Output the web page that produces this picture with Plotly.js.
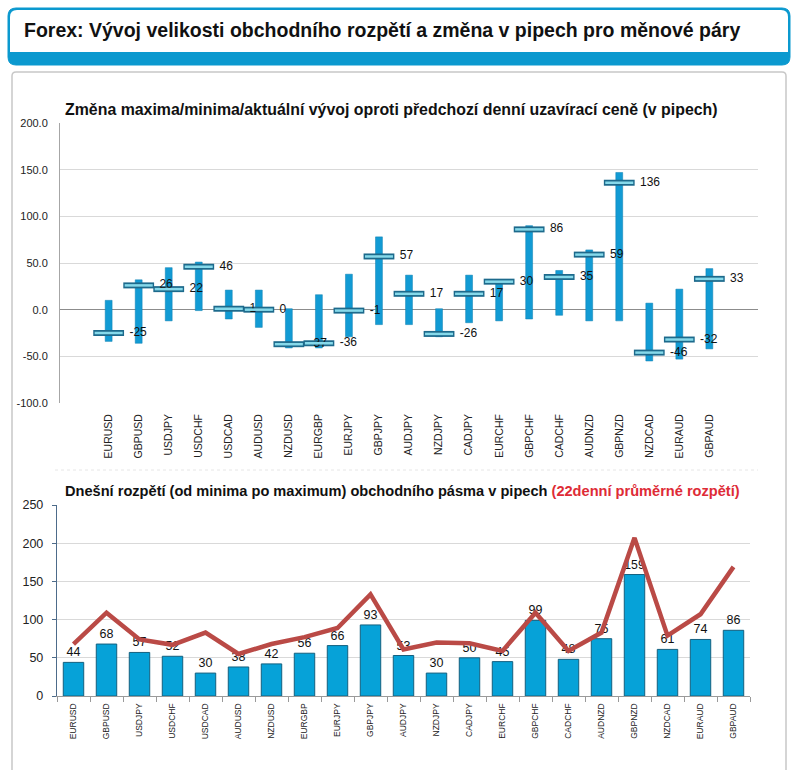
<!DOCTYPE html>
<html>
<head>
<meta charset="utf-8">
<script src="https://cdn.plot.ly/plotly-3.0.1.min.js"></script>
<style>html,body{margin:0;padding:0;background:#fff;}#chart{width:801px;height:770px;}</style>
</head>
<body>
<div id="chart"></div>
<script>
// ---- data ----
var pairs = ["EURUSD","GBPUSD","USDJPY","USDCHF","USDCAD","AUDUSD","NZDUSD","EURGBP","EURJPY","GBPJPY","AUDJPY","NZDJPY","CADJPY","EURCHF","GBPCHF","CADCHF","AUDNZD","GBPNZD","NZDCAD","EURAUD","GBPAUD"];
var highs   = [10, 32, 45, 51, 21, 21, 1, 16, 38, 78, 37, 1, 37, 32, 90, 42, 64, 147, 7, 22, 44];
var lows    = [-34, -36, -12, -1, -10, -19, -41, -41, -29, -16, -16, -29, -14, -12, -10, -6, -12, -12, -55, -53, -42];
var current = [-25, 26, 22, 46, 1, 0, -37, -36, -1, 57, 17, -26, 17, 30, 86, 35, 59, 136, -46, -32, 33];
var todayRange = [44, 68, 57, 52, 30, 38, 42, 56, 66, 93, 53, 30, 50, 45, 99, 48, 75, 159, 61, 74, 86];
var avgRange22 = [68, 109, 74, 67, 83, 55, 68, 77, 89, 133, 61, 70, 69, 59, 109, 59, 83, 207, 79, 107, 169];
var topTicks = [-100, -50, 0, 50, 100, 150, 200];
var topTickLabels = ["-100.0", "-50.0", "0.0", "50.0", "100.0", "150.0", "200.0"];
var botTicks = [0, 50, 100, 150, 200, 250];

var W = 801, H = 770;
function px(x){ return x / W; }
function py(y){ return 1 - y / H; }

var spans = highs.map(function(h, i){ return h - lows[i]; });

var traces = [
  { type: 'bar', x: pairs, y: spans, base: lows, width: 0.23,
    marker: { color: '#129BD4', line: { color: '#0c7fb0', width: 0.5 } },
    xaxis: 'x', yaxis: 'y', hoverinfo: 'skip' },
  { type: 'scatter', mode: 'markers+text', x: pairs, y: current,
    marker: { symbol: 'line-ew', size: 22, line: { color: '#1d6a8c', width: 6 } },
    text: current.map(function(v){ return '\u2002' + v; }), textposition: 'middle right',
    textfont: { family: 'Liberation Sans, Arial, sans-serif', size: 12, color: '#111' },
    cliponaxis: false, xaxis: 'x', yaxis: 'y', hoverinfo: 'skip' },
  { type: 'scatter', mode: 'markers', x: pairs, y: current,
    marker: { symbol: 'line-ew', size: 20, line: { color: '#86d9ea', width: 2.5 } },
    cliponaxis: false, xaxis: 'x', yaxis: 'y', hoverinfo: 'skip' },
  { type: 'bar', x: pairs, y: todayRange, width: 0.62,
    marker: { color: '#06A2D8', line: { color: '#14607f', width: 1 } },
    text: todayRange.map(String), textposition: 'outside',
    textfont: { family: 'Liberation Sans, Arial, sans-serif', size: 12.5, color: '#111' },
    cliponaxis: false, xaxis: 'x2', yaxis: 'y2', hoverinfo: 'skip' },
  { type: 'scatter', mode: 'lines', x: pairs, y: avgRange22,
    line: { color: '#BA4A46', width: 4.5 },
    xaxis: 'x2', yaxis: 'y2', hoverinfo: 'skip' }
];

var tickFont = { family: 'Liberation Sans, Arial, sans-serif', size: 11, color: '#222' };

var shapes = [
  // title box
  { type: 'path', xref: 'paper', yref: 'paper',
    path: 'M' + px(16) + ',' + py(8) + ' L' + px(782) + ',' + py(8) +
          ' Q' + px(790) + ',' + py(8) + ' ' + px(790) + ',' + py(16) +
          ' L' + px(790) + ',' + py(57) +
          ' Q' + px(790) + ',' + py(65) + ' ' + px(782) + ',' + py(65) +
          ' L' + px(16) + ',' + py(65) +
          ' Q' + px(8) + ',' + py(65) + ' ' + px(8) + ',' + py(57) +
          ' L' + px(8) + ',' + py(16) +
          ' Q' + px(8) + ',' + py(8) + ' ' + px(16) + ',' + py(8) + ' Z',
    fillcolor: '#0B99CF', line: { color: '#0B99CF', width: 1 }, layer: 'below' },
  { type: 'path', xref: 'paper', yref: 'paper',
    path: 'M' + px(17) + ',' + py(10) + ' L' + px(781) + ',' + py(10) +
          ' Q' + px(788) + ',' + py(10) + ' ' + px(788) + ',' + py(17) +
          ' L' + px(788) + ',' + py(52) + ' L' + px(10) + ',' + py(52) +
          ' L' + px(10) + ',' + py(17) +
          ' Q' + px(10) + ',' + py(10) + ' ' + px(17) + ',' + py(10) + ' Z',
    fillcolor: '#ffffff', line: { width: 0 }, layer: 'below' },
  // panel border
  { type: 'path', xref: 'paper', yref: 'paper',
    path: 'M' + px(12) + ',' + py(772) + ' L' + px(12) + ',' + py(76) +
          ' Q' + px(12) + ',' + py(72) + ' ' + px(16) + ',' + py(72) +
          ' L' + px(782) + ',' + py(72) +
          ' Q' + px(786) + ',' + py(72) + ' ' + px(786) + ',' + py(76) +
          ' L' + px(786) + ',' + py(772),
    line: { color: '#c8c8c8', width: 1.5 }, layer: 'below' },
  // faint separator between charts
  { type: 'line', xref: 'paper', yref: 'paper', x0: px(55), x1: px(758), y0: py(470), y1: py(470),
    line: { color: '#e6e6e6', width: 1, dash: 'dot' }, layer: 'below' }
];

var annotations = [
  { text: 'Forex: Vývoj velikosti obchodního rozpětí a změna v pipech pro měnové páry',
    xref: 'paper', yref: 'paper', x: px(22), y: py(30), xanchor: 'left', yanchor: 'middle',
    showarrow: false, font: { family: 'Liberation Sans, Arial, sans-serif', size: 19.5, color: '#111', weight: 'bold' } },
  { text: 'Změna maxima/minima/aktuální vývoj oproti předchozí denní uzavírací ceně (v pipech)',
    xref: 'paper', yref: 'paper', x: px(63), y: py(110), xanchor: 'left', yanchor: 'middle',
    showarrow: false, font: { family: 'Liberation Sans, Arial, sans-serif', size: 15.9, color: '#111', weight: 'bold' } },
  { text: 'Dnešní rozpětí (od minima po maximum) obchodního pásma v pipech <span style="color:#DE2B36">(22denní průměrné rozpětí)</span>',
    xref: 'paper', yref: 'paper', x: px(63), y: py(491), xanchor: 'left', yanchor: 'middle',
    showarrow: false, font: { family: 'Liberation Sans, Arial, sans-serif', size: 14.6, color: '#111', weight: 'bold' } }
];

var layout = {
  width: W, height: H,
  margin: { l: 0, r: 0, t: 0, b: 0, pad: 0 },
  paper_bgcolor: '#ffffff', plot_bgcolor: 'rgba(0,0,0,0)',
  showlegend: false, barmode: 'overlay',
  xaxis: { domain: [px(60), px(758)], anchor: 'y', type: 'category',
    showgrid: false, zeroline: false, showline: false, ticks: '',
    tickangle: -90, tickfont: { family: 'Liberation Sans, Arial, sans-serif', size: 10.5, color: '#222' },
    ticklabelstandoff: 8, fixedrange: true },
  yaxis: { domain: [py(403), py(123)], anchor: 'x', range: [-100, 200],
    tickvals: topTicks, ticktext: topTickLabels, tickfont: tickFont,
    showgrid: true, gridcolor: '#d9d9d9', gridwidth: 1,
    zeroline: true, zerolinecolor: '#8c8c8c', zerolinewidth: 1,
    showline: true, linecolor: '#a6a6a6', linewidth: 1, ticks: '', ticklabelstandoff: 9, fixedrange: true },
  xaxis2: { domain: [px(57), px(750)], anchor: 'y2', type: 'category',
    showgrid: false, zeroline: false, showline: true, linecolor: '#9a9a9a', linewidth: 1,
    ticks: 'outside', tickson: 'boundaries', ticklen: 5, tickcolor: '#9a9a9a',
    tickangle: -90, tickfont: { family: 'Liberation Sans, Arial, sans-serif', size: 8.5, color: '#222' },
    ticklabelstandoff: 3, fixedrange: true },
  yaxis2: { domain: [py(696), py(505)], anchor: 'x2', range: [0, 250],
    tickvals: botTicks, tickfont: { family: 'Liberation Sans, Arial, sans-serif', size: 12.5, color: '#222' },
    showgrid: true, gridcolor: '#d9d9d9', gridwidth: 1, zeroline: false,
    showline: true, linecolor: '#4d6b8a', linewidth: 1.2,
    ticks: 'outside', ticklen: 4, tickcolor: '#4d6b8a', ticklabelstandoff: 6, fixedrange: true },
  shapes: shapes,
  annotations: annotations
};

Plotly.newPlot('chart', traces, layout, { staticPlot: true, displayModeBar: false });
</script>
</body>
</html>
